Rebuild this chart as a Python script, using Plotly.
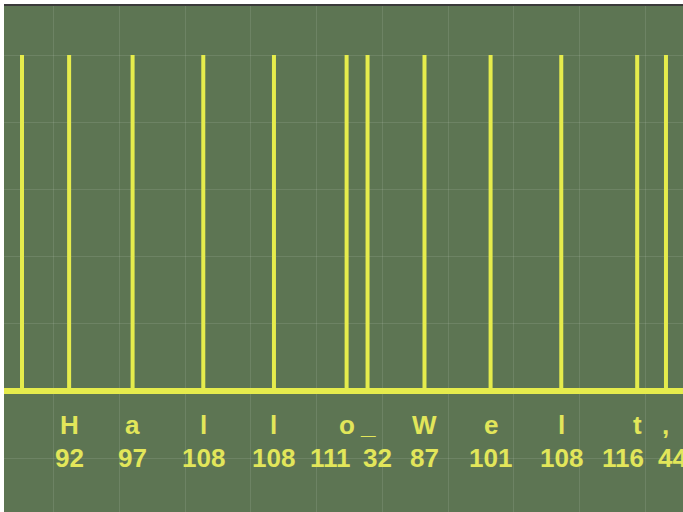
import plotly.graph_objects as go

# Pulse positions (time units); first pulse is the start marker
pulse_times = [0, 72, 169, 277, 385, 496, 528, 615, 716, 824, 940, 984]
char_labels = ["H", "a", "l", "l", "o", "_", "W", "e", "l", "t", ","]
code_labels = ["92", "97", "108", "108", "111", "32", "87", "101", "108", "116", "44"]
code_shift_px = [0, 0, 0, 0, -16, 10, 0, 0, 0, -14, 7]

BG = "#5d7553"
YEL = "#e6ec4c"
TXT = "#e2e65a"

x_range = [-27.5, 1010]
y_range = [-0.36, 1.149]

xs, ys = [], []
for t in pulse_times:
    xs += [t, t, None]
    ys += [0, 1, None]

fig = go.Figure()
fig.add_trace(go.Scatter(x=xs, y=ys, mode="lines",
                         line=dict(color=YEL, width=4), hoverinfo="skip"))
fig.add_trace(go.Scatter(x=x_range, y=[0, 0], mode="lines",
                         line=dict(color=YEL, width=6), hoverinfo="skip"))

font_family = "Liberation Sans, Arial, sans-serif"
for t, ch, code, sh in zip(pulse_times[1:], char_labels, code_labels, code_shift_px):
    fig.add_annotation(x=t, y=-0.101, text="<b>%s</b>" % ch, showarrow=False,
                       font=dict(family=font_family, size=26, color=TXT),
                       xanchor="center", yanchor="middle")
    fig.add_annotation(x=t, y=-0.199, text="<b>%s</b>" % code, showarrow=False,
                       xshift=sh,
                       font=dict(family=font_family, size=26, color=TXT),
                       xanchor="center", yanchor="middle")

# top border line
fig.add_shape(type="line", xref="paper", yref="paper", x0=0, x1=1, y0=1, y1=1,
              line=dict(color="#3a3a3a", width=2))

fig.update_layout(
    width=683, height=512,
    margin=dict(l=4, r=0, t=5, b=0),
    paper_bgcolor="white",
    plot_bgcolor=BG,
    showlegend=False,
)
fig.update_xaxes(range=x_range, showticklabels=False, zeroline=False,
                 showgrid=True, gridcolor="rgba(255,255,255,0.10)", gridwidth=1,
                 tick0=48.1, dtick=100.5, ticks="")
fig.update_yaxes(range=y_range, showticklabels=False, zeroline=False,
                 showgrid=True, gridcolor="rgba(255,255,255,0.10)", gridwidth=1,
                 tick0=0, dtick=0.2, ticks="")

fig.write_html("out.html", config={"displayModeBar": False},
               post_script="document.body.style.margin='0';document.body.style.overflow='hidden';")
